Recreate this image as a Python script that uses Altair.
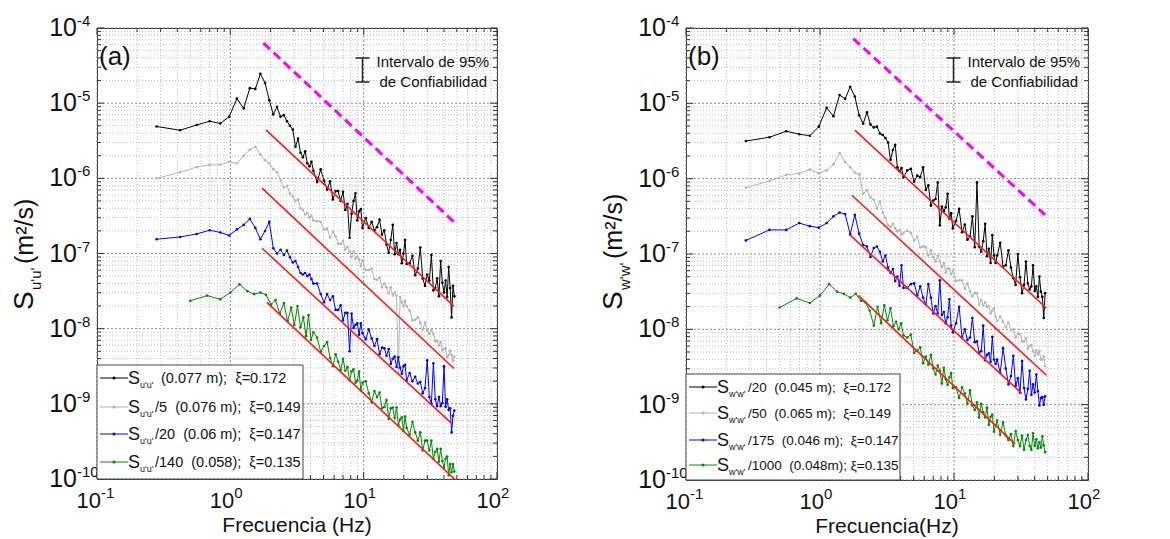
import altair as alt
import pandas as pd

FONT = "Liberation Sans"

# ---------------- frequencies (Hz) ----------------
freq_low = [0.28, 0.42, 0.56, 0.70, 0.84, 0.98, 1.12, 1.26, 1.40, 1.54, 1.68, 1.82, 1.96, 2.10, 2.24,
            2.38, 2.52, 2.66, 2.80, 2.94, 3.08, 3.22, 3.36, 3.50, 3.64, 3.78, 3.92, 4.06, 4.20]
freq_green_low = [0.50, 0.67, 0.84, 1.00, 1.17, 1.34, 1.51, 1.68, 1.85, 2.02, 2.18, 2.35, 2.52, 2.69,
                  2.86, 3.02, 3.19, 3.36, 3.53, 3.70, 3.86, 4.03, 4.20]
freq_high = [4.48, 4.76, 5.04, 5.32, 5.60, 5.88, 6.16, 6.44, 6.72, 7.00, 7.28, 7.56, 7.84, 8.12, 8.40,
             8.68, 8.96, 9.24, 9.52, 9.80,
             10.36, 10.92, 11.48, 12.04, 12.60, 13.16, 13.72, 14.28, 14.84, 15.40, 15.96, 16.52, 17.08,
             17.64, 18.20, 18.76, 19.32, 19.88, 20.44, 21.00,
             22.12, 23.24, 24.36, 25.48, 26.60, 27.72, 28.84, 29.96, 31.08, 32.20, 33.32, 34.44, 35.56,
             36.68, 37.80, 38.92, 40.04, 41.16, 42.28, 43.40, 44.52, 45.64, 46.76, 47.88]
freq = freq_low + freq_high
freq_green = freq_green_low + freq_high

# ---------------- spectra, log10(S) in m^2/s ----------------
a_black = [-5.31, -5.36, -5.29, -5.24, -5.27, -5.18, -4.94, -5.07, -4.80, -4.81, -4.61, -4.73, -4.96, -5.15, -5.05,
           -5.18, -5.16, -5.24, -5.30, -5.35, -5.58, -5.47, -5.66, -5.72, -5.64, -5.80, -5.84, -5.78, -5.90,
           -6.05, -5.88, -6.03, -6.15, -6.04, -6.28, -6.17, -6.17, -6.30, -6.18, -6.42, -6.34, -6.79, -6.47, -6.30,
           -6.20, -6.56, -6.44, -6.41, -6.66,
           -6.53, -6.66, -6.58, -6.69, -6.65, -6.55, -6.75, -6.69, -6.88, -6.99, -6.82, -6.62, -7.01, -6.86, -7.01,
           -6.95, -7.13, -7.00, -6.82, -7.14,
           -7.13, -7.03, -7.29, -7.20, -6.92, -7.33, -7.43, -7.28, -7.36, -7.02, -7.49, -7.46, -7.33, -7.57, -7.10,
           -7.39, -7.52, -7.36, -7.58, -7.18, -7.46, -7.85, -7.43, -7.57]
a_gray = [-6.00, -5.92, -5.85, -5.82, -5.82, -5.78, -5.80, -5.70, -5.62, -5.58, -5.68, -5.76, -5.80, -5.88, -5.92,
          -6.02, -6.12, -6.10, -6.20, -6.24, -6.30, -6.28, -6.40, -6.42, -6.48, -6.46, -6.52, -6.50, -6.56,
          -6.57, -6.58, -6.68, -6.67, -6.79, -6.71, -6.77, -6.87, -6.87, -6.83, -6.95, -6.91, -6.97, -7.05, -6.97,
          -7.07, -7.04, -7.08, -7.17, -7.09,
          -7.22, -7.22, -7.20, -7.34, -7.35, -7.32, -7.45, -7.40, -7.45, -7.53, -7.45, -7.56, -7.52, -7.56, -8.60,
          -7.58, -7.65, -7.70, -7.63, -7.70,
          -7.76, -7.89, -7.88, -7.85, -7.92, -8.01, -7.92, -8.02, -8.07, -8.02, -8.07, -8.17, -8.16, -8.22, -8.18,
          -8.29, -8.27, -8.26, -8.38, -8.35, -8.29, -8.35, -8.43, -8.37]
a_blue = [-6.81, -6.78, -6.74, -6.69, -6.72, -6.76, -6.68, -6.62, -6.54, -6.66, -6.81, -6.70, -6.58, -6.93, -7.00,
          -6.95, -7.02, -6.96, -7.05, -7.12, -7.10, -7.18, -7.26, -7.28, -7.26, -7.30, -7.28, -7.34, -7.40,
          -7.40, -7.54, -7.65, -7.54, -7.62, -7.57, -7.75, -7.75, -7.69, -7.89, -7.79, -7.79, -8.30, -7.80, -7.99,
          -7.95, -7.93, -8.08, -7.93, -8.06,
          -8.14, -8.01, -8.13, -8.23, -8.14, -8.34, -8.25, -8.26, -8.36, -8.27, -8.47, -8.40, -8.37, -8.51, -8.38,
          -8.52, -8.60, -8.50, -8.48, -8.69,
          -8.59, -8.70, -8.64, -8.73, -8.71, -8.86, -8.79, -8.42, -8.91, -9.00, -8.46, -8.94, -9.03, -8.91, -9.03,
          -8.99, -8.50, -9.04, -8.94, -9.08, -9.06, -9.38, -9.16, -9.09]
a_green = [-7.63, -7.56, -7.61, -7.52, -7.41, -7.50, -7.54, -7.52, -7.55, -7.68, -7.62, -7.80, -7.66, -7.90, -7.72,
           -7.95, -7.70, -7.98, -7.85, -8.10, -7.82, -8.15, -8.05,
           -8.12, -8.31, -8.23, -8.18, -8.39, -8.50, -8.34, -8.44, -8.55, -8.40, -8.56, -8.51, -8.69, -8.57, -8.54,
           -8.72, -8.69, -8.57, -8.82, -8.72,
           -8.70, -8.86, -8.98, -8.83, -8.91, -8.85, -9.06, -9.04, -8.95, -9.20, -9.06, -9.05, -9.19, -9.05, -9.28,
           -9.21, -9.18, -9.36, -9.17, -9.32,
           -9.41, -9.24, -9.38, -9.49, -9.38, -9.62, -9.49, -9.49, -9.62, -9.49, -9.73, -9.64, -9.60, -9.77, -9.60,
           -9.76, -9.85, -9.73, -9.70, -9.95, -9.80, -9.91, -9.80, -9.90]

b_black = [-5.50, -5.45, -5.37, -5.41, -5.43, -5.31, -5.06, -5.17, -4.89, -4.94, -4.78, -4.91, -5.16, -5.27, -5.12,
           -5.28, -5.32, -5.31, -5.40, -5.42, -5.46, -5.52, -5.75, -5.62, -5.55, -5.85, -5.90, -5.86, -5.98,
           -5.89, -5.87, -6.04, -5.96, -5.98, -5.85, -6.15, -6.09, -6.36, -6.29, -6.27, -6.05, -6.62, -6.37, -6.43,
           -6.38, -6.20, -6.53, -6.46, -6.66,
           -6.56, -6.40, -6.71, -6.61, -6.81, -6.77, -6.50, -6.91, -6.05, -6.90, -6.97, -6.83, -6.60, -7.03, -6.93,
           -7.12, -6.75, -7.02, -7.12, -7.02,
           -6.85, -7.17, -7.15, -6.95, -7.18, -7.32, -7.41, -7.00, -7.31, -7.52, -7.41, -7.10, -7.39, -7.47, -7.43,
           -7.15, -7.49, -7.43, -7.57, -7.30, -7.50, -7.57, -7.85, -7.52]
b_gray = [-6.12, -6.03, -5.95, -5.93, -5.88, -5.93, -5.89, -5.81, -5.66, -5.78, -5.85, -5.92, -5.94, -6.20, -6.15,
          -6.25, -6.28, -6.40, -6.30, -6.45, -6.52, -6.62, -6.64, -6.60, -6.66, -6.70, -6.68, -6.74, -6.72,
          -6.69, -6.72, -6.82, -6.77, -6.91, -6.90, -6.91, -7.02, -6.95, -7.04, -7.10, -7.02, -7.10, -7.17, -7.12,
          -7.25, -7.19, -7.20, -7.27, -7.22,
          -7.36, -7.35, -7.35, -7.46, -7.39, -7.50, -7.56, -7.52, -7.52, -7.67, -7.61, -7.68, -7.64, -7.70, -7.69,
          -7.79, -7.75, -7.72, -7.83, -7.89,
          -7.83, -7.90, -7.97, -7.91, -8.01, -8.00, -8.11, -8.06, -8.06, -8.16, -8.16, -8.12, -8.26, -8.22, -8.21,
          -8.29, -8.35, -8.28, -8.33, -8.29, -8.40, -8.40, -8.36, -8.49]
b_blue = [-6.82, -6.68, -6.68, -6.59, -6.63, -6.65, -6.59, -6.50, -6.45, -6.47, -6.74, -6.48, -6.73, -6.88, -6.90,
          -7.04, -6.92, -6.90, -6.97, -7.10, -7.02, -7.18, -7.25, -7.20, -7.36, -7.30, -7.42, -7.15, -7.45,
          -7.45, -7.40, -7.39, -7.55, -7.43, -7.58, -7.67, -7.40, -7.58, -7.79, -7.69, -7.79, -7.35, -7.81, -7.77,
          -7.92, -7.84, -7.60, -7.95, -8.04,
          -7.92, -7.70, -8.11, -8.00, -8.14, -8.11, -7.85, -8.17, -8.16, -8.31, -8.29, -7.95, -8.41, -8.34, -8.32,
          -8.43, -8.10, -8.40, -8.46, -8.40,
          -8.58, -8.25, -8.52, -8.73, -8.62, -8.35, -8.75, -8.65, -8.84, -8.42, -8.78, -8.93, -8.79, -8.55, -8.87,
          -8.73, -8.84, -8.60, -8.82, -9.01, -8.91, -8.90, -9.00, -8.89]
b_green = [-7.71, -7.59, -7.65, -7.55, -7.40, -7.50, -7.53, -7.58, -7.53, -7.62, -7.64, -7.75, -7.95, -7.70, -7.92,
           -7.68, -7.88, -7.72, -7.96, -7.90, -8.00, -7.92, -8.08,
           -8.11, -8.07, -8.31, -8.28, -8.24, -8.45, -8.36, -8.47, -8.34, -8.52, -8.60, -8.48, -8.55, -8.72, -8.51,
           -8.66, -8.74, -8.64, -8.58, -8.78,
           -8.77, -8.91, -8.77, -8.85, -8.99, -8.81, -9.01, -9.07, -8.97, -9.17, -8.99, -9.10, -9.17, -9.04, -9.27,
           -9.16, -9.13, -9.36, -9.27, -9.21,
           -9.40, -9.23, -9.41, -9.47, -9.39, -9.55, -9.35, -9.47, -9.55, -9.41, -9.60, -9.47, -9.40, -9.55, -9.60,
           -9.38, -9.55, -9.46, -9.58, -9.50, -9.57, -9.42, -9.54, -9.63]

# -5/3 fit lines: (f_start, f_end), (log10 S_start, log10 S_end)
a_fit_f = [(1.85, 47.5), (1.73, 47.5), (1.73, 45.0), (1.88, 48.0)]
a_fit_s = [(-5.355, -7.70), (-6.13, -8.53), (-6.93, -9.25), (-7.65, -10.0)]
b_fit_f = [(1.82, 49.0), (1.73, 49.0), (1.68, 32.0), (1.93, 28.5)]
b_fit_s = [(-5.355, -7.72), (-6.22, -8.61), (-6.75, -8.85), (-7.55, -9.52)]
a_ref_f, a_ref_s = (1.77, 47.5), (-4.20, -6.58)
b_ref_f, b_ref_s = (1.77, 47.8), (-4.14, -6.48)

NB = "\u00a0"
a_legend = ["(0.077 m);" + NB * 2 + "\u03be=0.172",
            "/5" + NB * 2 + "(0.076 m);" + NB * 2 + "\u03be=0.149",
            "/20" + NB * 2 + "(0.06 m);" + NB * 2 + "\u03be=0.147",
            "/140" + NB * 2 + "(0.058);" + NB * 2 + "\u03be=0.135"]
b_legend = ["/20" + NB * 2 + "(0.045 m);" + NB * 2 + "\u03be=0.172",
            "/50" + NB * 2 + "(0.065 m);" + NB * 2 + "\u03be=0.149",
            "/175" + NB * 2 + "(0.046 m);" + NB * 2 + "\u03be=0.147",
            "/1000" + NB * 2 + "(0.048m);" + NB + "\u03be=0.135"]

x_major = [0.1, 1, 10, 100]
x_minor = [m * 10.0 ** e for e in (-1, 0, 1) for m in range(2, 10)]
y_major = [1e-10, 1e-9, 1e-8, 1e-7, 1e-6, 1e-5, 1e-4]
y_minor = [m * 10.0 ** e for e in range(-10, -4) for m in range(2, 10)]
x_exp = ["-1", "0", "1", "2"]
y_exp = ["-10", "-9", "-8", "-7", "-6", "-5", "-4"]

COLORS = ["#000000", "#b4b4b4", "#0000ff", "#008a00"]
RED = "#ff1a1a"
MAGENTA = "#ff00ff"
INK = "#111111"

XS = alt.Scale(type="log", domain=[0.1, 100], nice=False)
YS = alt.Scale(type="log", domain=[1e-10, 1e-4], nice=False)
ONE = alt.Data(values=[{"k": 0}])


def X(field):
    return alt.X(field, scale=XS, axis=None)


def Y(field):
    return alt.Y(field, scale=YS, axis=None)


def txt(t, x, y, size, align="left", angle=0, color=INK):
    return alt.Chart(ONE).mark_text(text=t, align=align, baseline="alphabetic", fontSize=size,
                                    font=FONT, angle=angle, color=color).encode(
        x=alt.value(x), y=alt.value(y))


def rule_px(x, x2, y, y2, color="#222222", w=1.0):
    return alt.Chart(ONE).mark_rule(color=color, strokeWidth=w).encode(
        x=alt.value(x), x2=alt.value(x2), y=alt.value(y), y2=alt.value(y2))


def series(f, lg, color):
    df = pd.DataFrame({"f": f, "S": [10 ** v for v in lg]})
    return alt.Chart(df).mark_line(
        color=color, strokeWidth=1, clip=True,
        point=alt.OverlayMarkDef(color=color, size=7, filled=True, opacity=1)
    ).encode(x=X("f:Q"), y=Y("S:Q"))


def fitline(fs, ss, color, width, dash=None):
    df = pd.DataFrame({"f": list(fs), "S": [10 ** v for v in ss]})
    kw = dict(color=color, strokeWidth=width, clip=True)
    if dash:
        kw["strokeDash"] = dash
    return alt.Chart(df).mark_line(**kw).encode(x=X("f:Q"), y=Y("S:Q"))


def panel(tag, sub, xtitle, W, H, data, fit_f, fit_s, ref_f, ref_s, legend, box, rows, conf, leg):
    L = []
    # grid
    L.append(alt.Chart(pd.DataFrame({"v": x_minor})).mark_rule(
        color="#bdbdbd", strokeDash=[1, 2], strokeWidth=1).encode(x=X("v:Q")))
    L.append(alt.Chart(pd.DataFrame({"v": y_minor})).mark_rule(
        color="#bdbdbd", strokeDash=[1, 2], strokeWidth=1).encode(y=Y("v:Q")))
    L.append(alt.Chart(pd.DataFrame({"v": x_major})).mark_rule(
        color="#8c8c8c", strokeDash=[2, 2], strokeWidth=1).encode(x=X("v:Q")))
    L.append(alt.Chart(pd.DataFrame({"v": y_major})).mark_rule(
        color="#8c8c8c", strokeDash=[2, 2], strokeWidth=1).encode(y=Y("v:Q")))
    # inward ticks
    for vals, ln in ((x_major, 7), (x_minor, 4)):
        d = pd.DataFrame({"v": vals})
        L.append(alt.Chart(d).mark_rule(color="#333333").encode(x=X("v:Q"), y=alt.value(H), y2=alt.value(H - ln)))
        L.append(alt.Chart(d).mark_rule(color="#333333").encode(x=X("v:Q"), y=alt.value(0), y2=alt.value(ln)))
    for vals, ln in ((y_major, 7), (y_minor, 4)):
        d = pd.DataFrame({"v": vals})
        L.append(alt.Chart(d).mark_rule(color="#333333").encode(y=Y("v:Q"), x=alt.value(0), x2=alt.value(ln)))
        L.append(alt.Chart(d).mark_rule(color="#333333").encode(y=Y("v:Q"), x=alt.value(W), x2=alt.value(W - ln)))
    # data
    for (f, lg), c in zip(data, COLORS):
        L.append(series(f, lg, c))
    for fs, ss in zip(fit_f, fit_s):
        L.append(fitline(fs, ss, RED, 1.6))
    L.append(fitline(ref_f, ref_s, MAGENTA, 3, [9, 5]))
    # tick labels
    yl = pd.DataFrame({"v": y_major, "e": y_exp})
    L.append(alt.Chart(yl).mark_text(text="10", align="right", baseline="alphabetic", fontSize=25,
                                     font=FONT, dy=8, color=INK).encode(x=alt.value(-20), y=Y("v:Q")))
    L.append(alt.Chart(yl).mark_text(align="left", baseline="alphabetic", fontSize=15,
                                     font=FONT, dy=-2, color=INK).encode(x=alt.value(-20), y=Y("v:Q"), text="e:N"))
    xl = pd.DataFrame({"v": x_major, "e": x_exp})
    L.append(alt.Chart(xl).mark_text(text="10", align="right", baseline="alphabetic", fontSize=22,
                                     font=FONT, dx=4, color=INK).encode(x=X("v:Q"), y=alt.value(H + 29)))
    L.append(alt.Chart(xl).mark_text(align="left", baseline="alphabetic", fontSize=15,
                                     font=FONT, dx=4, color=INK).encode(x=X("v:Q"), y=alt.value(H + 19), text="e:N"))
    # axis titles
    L.append(txt(xtitle, W / 2, H + 53, 21, align="center"))
    L.append(txt("S", -64, 282, 28, angle=270))
    L.append(txt(sub, -56, 262, 15, angle=270))
    L.append(txt("(m\u00b2/s)", -64, 236 if sub == "u'u'" else 231, 25, angle=270))
    # panel tag
    L.append(txt(tag, 2, 37, 26))
    # confidence interval marker
    cx = conf
    L.append(rule_px(cx, cx, 30, 54, "#222222", 1.5))
    L.append(rule_px(cx - 7, cx + 7, 30, 30, "#222222", 1.5))
    L.append(rule_px(cx - 7, cx + 7, 54, 54, "#222222", 1.5))
    L.append(txt("Intervalo de 95%", cx + 14, 39, 15))
    L.append(txt("de Confiabilidad", cx + 17, 59, 15))
    # legend box
    bx2, by1 = box
    L.append(alt.Chart(ONE).mark_rect(fill="white", stroke="#444444", strokeWidth=1).encode(
        x=alt.value(0), x2=alt.value(bx2), y=alt.value(by1), y2=alt.value(H)))
    x_first, x_rest, fsize = leg
    for i, (label, yc) in enumerate(zip(legend, rows)):
        c = COLORS[i]
        L.append(rule_px(3, 31, yc, yc, c, 1))
        L.append(alt.Chart(ONE).mark_point(filled=True, size=10, color=c, opacity=1).encode(
            x=alt.value(17), y=alt.value(yc)))
        L.append(txt("S", 31, yc + 6, 18))
        L.append(txt(sub, 43, yc + 10, 9))
        L.append(txt(label, x_first if i == 0 else x_rest, yc + 5, fsize))
    return alt.layer(*L).properties(width=W, height=H)


pa = panel("(a)", "u'u'", "Frecuencia (Hz)", 400, 451,
           [(freq, a_black), (freq, a_gray), (freq, a_blue), (freq_green, a_green)],
           a_fit_f, a_fit_s, a_ref_f, a_ref_s, a_legend, (206, 337), [350, 379, 406, 434], 265.5,
           (64, 58, 14.5))
pb = panel("(b)", "w'w'", "Frecuencia(Hz)", 402, 452,
           [(freq, b_black), (freq, b_gray), (freq, b_blue), (freq_green, b_green)],
           b_fit_f, b_fit_s, b_ref_f, b_ref_s, b_legend, (214, 346), [359, 385, 412, 437], 267.5,
           (62, 62, 13.5))

chart = alt.hconcat(pa, pb, spacing=189, bounds="flush").properties(
    padding={"left": 2, "top": 5, "right": 5, "bottom": 0}
).configure_view(stroke="#333333", strokeWidth=1)

chart.save("out.html", embed_options={"renderer": "svg", "actions": False})
